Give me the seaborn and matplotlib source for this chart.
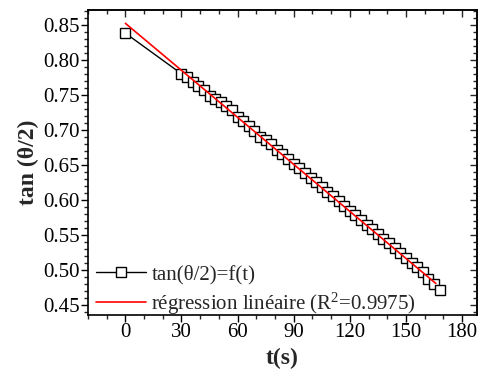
import numpy as np
import pandas as pd
import seaborn as sns
import matplotlib.pyplot as plt
from matplotlib.ticker import MultipleLocator

# mesures tan(theta/2) en fonction du temps
t_s = [0, 30, 33, 36, 39, 42, 45, 48, 51, 54, 57, 60, 63, 66, 69, 72, 75, 78,
       81, 84, 87, 90, 93, 96, 99, 102, 105, 108, 111, 114, 117, 120, 123, 126,
       129, 132, 135, 138, 141, 144, 147, 150, 153, 156, 159, 162, 165, 168]
tan_half = [0.838, 0.780, 0.775, 0.769, 0.763, 0.757, 0.749, 0.744, 0.740, 0.734,
            0.728, 0.718, 0.712, 0.706, 0.699, 0.690, 0.685, 0.680, 0.672, 0.665,
            0.658, 0.652, 0.645, 0.638, 0.632, 0.625, 0.619, 0.612, 0.606, 0.598,
            0.591, 0.585, 0.578, 0.572, 0.565, 0.558, 0.552, 0.544, 0.538, 0.531,
            0.525, 0.517, 0.510, 0.504, 0.497, 0.488, 0.480, 0.472]

# droite de régression (extrémités)
fit_t = [0, 166]
fit_v = [0.852, 0.481]

df = pd.DataFrame({'t': t_s, 'v': tan_half})
df_fit = pd.DataFrame({'t': fit_t, 'v': fit_v})

sns.set_style('ticks')
plt.rcParams['font.family'] = ['Liberation Serif', 'DejaVu Serif']
plt.rcParams['mathtext.fontset'] = 'custom'
plt.rcParams['mathtext.rm'] = 'Liberation Serif'
plt.rcParams['mathtext.it'] = 'Liberation Serif:italic'

fig = plt.figure(figsize=(4.84, 3.71), dpi=100)
ax = fig.add_axes([0.1818, 0.1509, 0.8037, 0.8221])

sns.lineplot(data=df, x='t', y='v', ax=ax, color='black', lw=1.0,
             marker='s', markersize=7, markerfacecolor='white',
             markeredgecolor='black', markeredgewidth=1.0,
             label='tan(θ/2)=f(t)')
sns.lineplot(data=df_fit, x='t', y='v', ax=ax, color='red', lw=1.2,
             label='régression linéaire (R$^2$=0.9975)')

ax.set_xlim(-20, 188)
ax.set_ylim(0.436, 0.871)
ax.xaxis.set_major_locator(MultipleLocator(30))
ax.xaxis.set_minor_locator(MultipleLocator(10))
ax.yaxis.set_major_locator(MultipleLocator(0.05))
ax.yaxis.set_minor_locator(MultipleLocator(0.01))
ax.yaxis.set_major_formatter(plt.FormatStrFormatter('%.2f'))

ax.tick_params(which='major', direction='out', length=5, width=1, labelsize=15,
               colors='black', pad=1)
ax.tick_params(which='minor', direction='out', length=3, width=1)

# graduations intérieures en haut et à droite
top = ax.secondary_xaxis('top')
top.xaxis.set_major_locator(MultipleLocator(30))
top.xaxis.set_minor_locator(MultipleLocator(10))
top.tick_params(which='major', direction='in', length=5, width=1, labeltop=False)
top.tick_params(which='minor', direction='in', length=3, width=1)
right = ax.secondary_yaxis('right')
right.yaxis.set_major_locator(MultipleLocator(0.05))
right.yaxis.set_minor_locator(MultipleLocator(0.01))
right.tick_params(which='major', direction='in', length=5, width=1, labelright=False)
right.tick_params(which='minor', direction='in', length=3, width=1)

for sp in ax.spines.values():
    sp.set_visible(True)
    sp.set_linewidth(1.2)
    sp.set_color('black')
top.spines['top'].set_linewidth(1.2)
right.spines['right'].set_linewidth(1.2)

ax.set_xlabel('t(s)', fontsize=17, fontweight='bold', labelpad=4)
ax.set_ylabel('tan (θ/2)', fontsize=17, fontweight='bold', labelpad=3)

ax.legend(loc='lower left', frameon=False, fontsize=15, handlelength=2.4,
          handletextpad=0.25, labelspacing=0.3, borderaxespad=0.0,
          borderpad=0.2, bbox_to_anchor=(0.01, -0.02))

fig.savefig('out.png', dpi=100)
